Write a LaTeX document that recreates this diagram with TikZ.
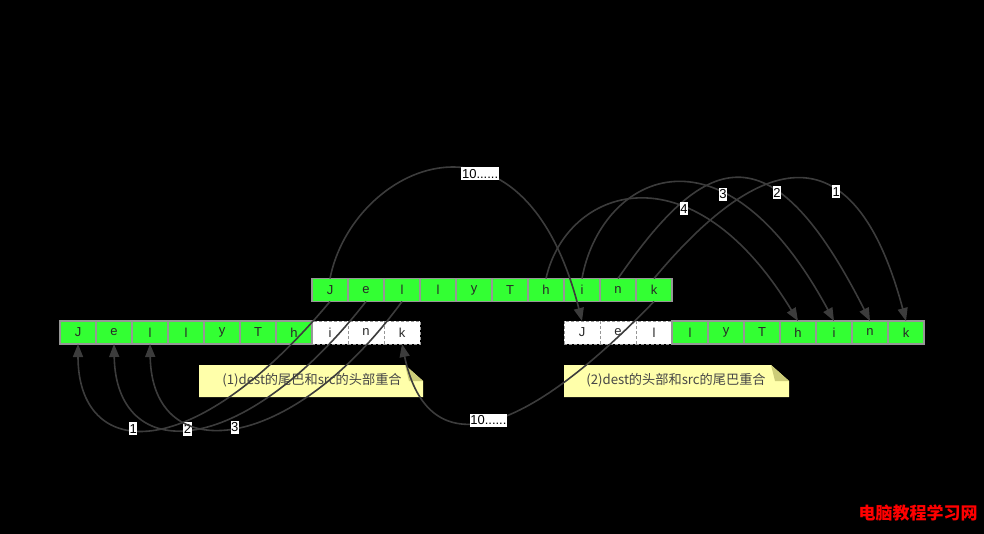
\documentclass[tikz,border=0pt]{standalone}
\usepackage{fontspec}
\setmainfont{Liberation Sans}
\newfontfamily\cjk{Noto Sans CJK SC}
\usetikzlibrary{arrows.meta}
\definecolor{cellgreen}{RGB}{51,255,51}
\definecolor{cellborder}{RGB}{150,150,150}
\definecolor{arcgray}{RGB}{60,60,60}
\definecolor{notefill}{RGB}{255,255,170}
\definecolor{notefold}{RGB}{204,204,120}
\definecolor{notetext}{RGB}{70,70,70}
\begin{document}
\begin{tikzpicture}[x=1pt,y=-1pt,
  cell/.style={draw=cellborder, line width=1.5pt, fill=cellgreen,
    minimum width=36pt, minimum height=23pt, inner sep=0pt, outer sep=0pt,
    font=\fontsize{13}{15}\selectfont, text={rgb,255:red,40;green,40;blue,40}},
  ghost/.style={cell, fill=white, line width=1pt, dash pattern=on 3pt off 2pt},
  arc/.style={draw=arcgray, line width=1.6pt, -{Triangle[length=13pt,width=10pt]}},
  lbl/.style={fill=white, text=black, font=\fontsize{13}{14}\selectfont,
    inner xsep=0.6pt, inner ysep=2pt},
  notetxt/.style={text=notetext, font=\cjk\fontsize{13.2}{15}\selectfont, inner sep=0pt},
  notebody/.style={fill=notefill},
  notecorner/.style={fill=notefold}
]
\useasboundingbox (0,0) rectangle (984,534);
\fill[black] (0,0) rectangle (984,534);

% source row (top)
\foreach \c [count=\i] in {J,e,l,l,y,T,h,i,n,k}
  \node[cell] (t\i) at ({294+36*\i},290) {\c};

% left row
\foreach \c [count=\i] in {i,n,k}
  \node[ghost] (l\the\numexpr\i+7\relax) at ({294+36*\i},332.5) {\c};
\foreach \c [count=\i] in {J,e,l,l,y,T,h}
  \node[cell] (l\i) at ({42+36*\i},332.5) {\c};

% right row
\foreach \c [count=\i] in {J,e,l}
  \node[ghost] (r\i) at ({546+36*\i},332.5) {\c};
\foreach \c [count=\i] in {l,y,T,h,i,n,k}
  \node[cell] (r\the\numexpr\i+3\relax) at ({654+36*\i},332.5) {\c};

% notes
\path[notebody] (199,365) -- (405,365) -- (423,381) -- (423,397) -- (199,397) -- cycle;
\path[notecorner] (405,365) -- (423,381) -- (409,381) -- cycle;
\node[notetxt] (note1) at (312,380.5) {(1)dest的尾巴和src的头部重合};
\path[notebody] (564,365) -- (771,365) -- (789,381) -- (789,397) -- (564,397) -- cycle;
\path[notecorner] (771,365) -- (789,381) -- (775,381) -- cycle;
\node[notetxt] (note2) at (676,380.5) {(2)dest的头部和src的尾巴重合};

% case 1: arcs below
\draw[arc] (t1.south) .. controls +(-141,169) and +(0,115) .. node[lbl,pos=0.57] (b1) {1} (l1.south);
\draw[arc] (t2.south) .. controls +(-127,162) and +(2,120) .. node[lbl,pos=0.52] (b2) {2} (l2.south);
\draw[arc] (t3.south) .. controls +(-112,154) and +(2,125) .. node[lbl,pos=0.5] (b3) {3} (l3.south);
\draw[arc] (t10.south) .. controls +(-149,154) and +(23,110) .. node[lbl,pos=0.47] (b10) {10......} (l10.south);

% case 2: arcs above
\draw[arc] (t10.north) .. controls +(90,-108) and +(-57,-213) .. node[lbl,pos=0.67] (a1) {1} (r10.north);
\draw[arc] (t9.north) .. controls +(85,-123) and +(-101,-200) .. node[lbl,pos=0.66] (a2) {2} (r9.north);
\draw[arc] (t8.north) .. controls +(18,-100) and +(-114,-211) .. node[lbl,pos=0.67] (a3) {3} (r8.north);
\draw[arc] (t7.north) .. controls +(20,-90) and +(-108,-178) .. node[lbl,pos=0.65] (a4) {4} (r7.north);
\draw[arc] (t1.north) .. controls +(22,-112) and +(-60,-236) .. node[lbl,pos=0.62] (a10) {10......} (r1.north);

% watermark
\node[text=red, font=\cjk\bfseries\fontsize{17}{17}\selectfont, inner sep=0pt] (wm) at (918,513) {电脑教程学习网};
\end{tikzpicture}
\end{document}
